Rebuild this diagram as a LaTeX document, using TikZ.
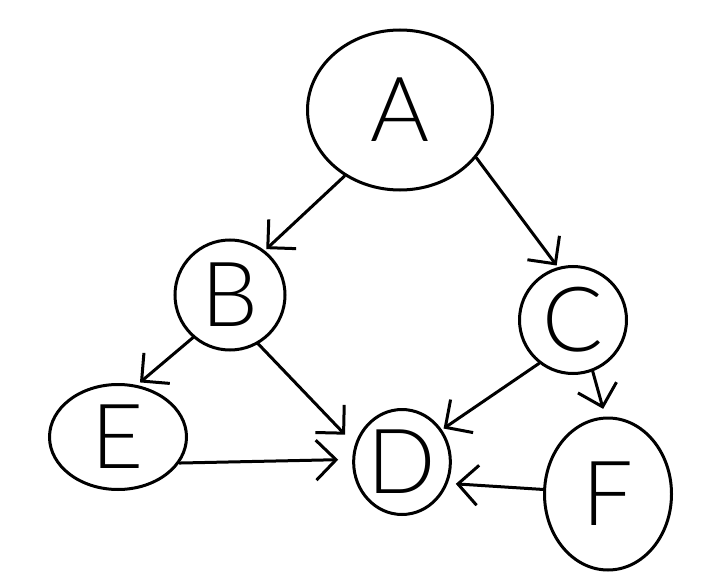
\documentclass[tikz,border=0pt]{standalone}
\usepackage{fontspec}
\setmainfont{Lato Light}
\usetikzlibrary{arrows.meta,shapes.geometric}
\begin{document}
\begin{tikzpicture}[x=1pt,y=-1pt,
  vtx/.style={draw, ellipse, line width=3pt, inner sep=0pt,
    font=\fontsize{90}{90}\selectfont},
  link/.style={line width=3pt, line cap=round,
    -{Straight Barb[length=20pt,width=40pt,line width=3pt]}}]
  \useasboundingbox (0,0) rectangle (726,578);
  \fill[white] (0,0) rectangle (726,578);
  % vertices
  \node[vtx, minimum width=185pt, minimum height=160pt] (A) at (400,110) {A};
  \node[vtx, minimum width=110pt, minimum height=110pt] (B) at (230,295) {B};
  \node[vtx, minimum width=107pt, minimum height=107pt] (C) at (573,320) {C};
  \node[vtx, minimum width=95pt,  minimum height=105pt] (D) at (402,462) {D};
  \node[vtx, minimum width=137pt, minimum height=105pt] (E) at (118,437) {E};
  \node[vtx, minimum width=127pt, minimum height=152pt] (F) at (608,494) {F};
  % edges
  \draw[link, shorten >=2pt] (A.230) -- (B.52);
  \draw[link, shorten >=2pt] (A.328) -- (C.106);
  \draw[link, shorten >=4pt] (B.229) -- (E.70);
  \draw[link, shorten >=14pt] (B.300) -- (D.160);
  \draw[link, shorten >=2pt] (C.232) -- (D.39);
  \draw[link, shorten >=8pt] (C.291) -- (F.92);
  \draw[link, shorten >=14pt] (E.337) -- (D.177);
  \draw[link, shorten >=8pt] (F.176) -- (D.335);
\end{tikzpicture}
\end{document}
